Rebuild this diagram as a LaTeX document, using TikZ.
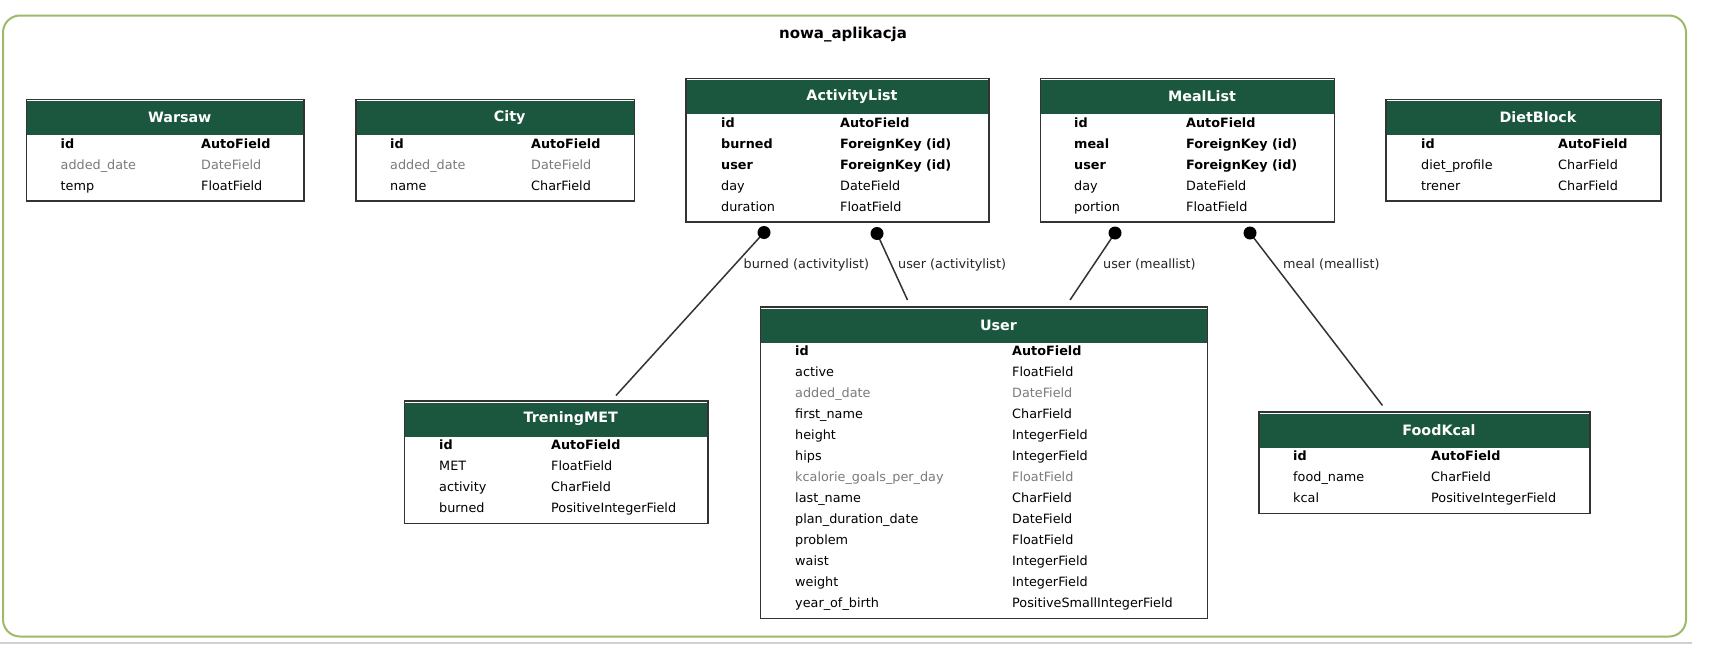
\documentclass[tikz,border=0pt]{standalone}
\usepackage{fontspec}
\setmainfont{DejaVu Sans}
\usetikzlibrary{fit,calc}

\definecolor{hdrgreen}{HTML}{1B563F}
\definecolor{framegreen}{HTML}{9CBB6A}
\definecolor{nullgray}{HTML}{7B7B7B}
\definecolor{edgegray}{HTML}{333333}
\definecolor{rulegray}{HTML}{D0D0D0}

\tikzset{
  tbl/.style={draw=edgegray, line width=1.6pt, inner sep=0pt, fill=white},
  hdr/.style={fill=hdrgreen},
  tbltitle/.style={text=white, inner sep=0pt, font=\fontsize{14.3}{16}\selectfont\bfseries},
  fld/.style={anchor=base west, inner sep=0pt, font=\fontsize{12.8}{15}\selectfont},
  pk/.style={font=\fontsize{12.8}{15}\selectfont\bfseries},
  nullf/.style={text=nullgray},
  reg/.style={},
  rel/.style={draw=edgegray, line width=1.5pt},
  tail/.style={circle, fill=black, inner sep=0pt, minimum size=13pt},
  rellabel/.style={anchor=base west, inner sep=0pt, text=black!85, font=\fontsize{12.8}{15}\selectfont},
  apptitle/.style={inner sep=0pt, font=\fontsize{15}{17}\selectfont\bfseries},
}

% model table: #1 name, #2 left, #3 top, #4 right, #5 number of rows, #6 title
\newcommand\erbox[6]{%
  \pgfmathsetmacro\boxbot{#3+44+(#5-1)*21+15.5}
  \node[tbl, fit={(#2,#3) (#4,\boxbot)}] (#1) {};
  \fill[hdr] (#2+0.8,#3+1.8) rectangle (#4-0.8,#3+35.5);
  \node[tbltitle] (#1-title) at ({(#2+#4)/2+14.5},#3+18) {#6};
  \def\rowtop{#3+44}}

% one field row: #1 table, #2 index, #3 style, #4 field name, #5 field type
\newcommand\frow[5]{%
  \node[fld,#3] (#1-f#2) at (\nx,\rowtop+#2*21+4.5) {#4};
  \node[fld,#3] (#1-t#2) at (\tx,\rowtop+#2*21+4.5) {#5};}

\begin{document}
\begin{tikzpicture}[x=1pt,y=-1pt]
\useasboundingbox (0,0) rectangle (1733,664);
\fill[white] (0,0) rectangle (1733,664);

% application cluster
\draw[framegreen, line width=2pt, rounded corners=17pt] (3,15.5) rectangle (1686,636.5);
\draw[rulegray, line width=1.5pt] (0,643) -- (1692,643);
\node[apptitle] (app) at (843,35) {nowa\_aplikacja};

% Warsaw
\erbox{warsaw}{26.5}{99.5}{304}{3}{Warsaw}
\def\nx{60.5}\def\tx{201}
\frow{warsaw}{0}{pk}{id}{AutoField}
\frow{warsaw}{1}{nullf}{added\_date}{DateField}
\frow{warsaw}{2}{reg}{temp}{FloatField}

% City
\erbox{city}{356}{99.5}{634.5}{3}{City}
\def\nx{390}\def\tx{531}
\frow{city}{0}{pk}{id}{AutoField}
\frow{city}{1}{nullf}{added\_date}{DateField}
\frow{city}{2}{reg}{name}{CharField}

% ActivityList
\erbox{act}{686}{78.5}{989}{5}{ActivityList}
\def\nx{721}\def\tx{840}
\frow{act}{0}{pk}{id}{AutoField}
\frow{act}{1}{pk}{burned}{ForeignKey (id)}
\frow{act}{2}{pk}{user}{ForeignKey (id)}
\frow{act}{3}{reg}{day}{DateField}
\frow{act}{4}{reg}{duration}{FloatField}

% MealList
\erbox{meal}{1040.5}{78.5}{1334.5}{5}{MealList}
\def\nx{1074}\def\tx{1186}
\frow{meal}{0}{pk}{id}{AutoField}
\frow{meal}{1}{pk}{meal}{ForeignKey (id)}
\frow{meal}{2}{pk}{user}{ForeignKey (id)}
\frow{meal}{3}{reg}{day}{DateField}
\frow{meal}{4}{reg}{portion}{FloatField}

% DietBlock
\erbox{diet}{1386}{99.5}{1661}{3}{DietBlock}
\def\nx{1421}\def\tx{1558}
\frow{diet}{0}{pk}{id}{AutoField}
\frow{diet}{1}{reg}{diet\_profile}{CharField}
\frow{diet}{2}{reg}{trener}{CharField}

% User
\erbox{user}{760.5}{307}{1207.5}{13}{User}
\def\nx{795}\def\tx{1012}
\frow{user}{0}{pk}{id}{AutoField}
\frow{user}{1}{reg}{active}{FloatField}
\frow{user}{2}{nullf}{added\_date}{DateField}
\frow{user}{3}{reg}{first\_name}{CharField}
\frow{user}{4}{reg}{height}{IntegerField}
\frow{user}{5}{reg}{hips}{IntegerField}
\frow{user}{6}{nullf}{kcalorie\_goals\_per\_day}{FloatField}
\frow{user}{7}{reg}{last\_name}{CharField}
\frow{user}{8}{reg}{plan\_duration\_date}{DateField}
\frow{user}{9}{reg}{problem}{FloatField}
\frow{user}{10}{reg}{waist}{IntegerField}
\frow{user}{11}{reg}{weight}{IntegerField}
\frow{user}{12}{reg}{year\_of\_birth}{PositiveSmallIntegerField}

% TreningMET
\erbox{met}{404.5}{401}{708}{4}{TreningMET}
\def\nx{439}\def\tx{551}
\frow{met}{0}{pk}{id}{AutoField}
\frow{met}{1}{reg}{MET}{FloatField}
\frow{met}{2}{reg}{activity}{CharField}
\frow{met}{3}{reg}{burned}{PositiveIntegerField}

% FoodKcal
\erbox{food}{1259}{412}{1590}{3}{FoodKcal}
\def\nx{1293}\def\tx{1431}
\frow{food}{0}{pk}{id}{AutoField}
\frow{food}{1}{reg}{food\_name}{CharField}
\frow{food}{2}{reg}{kcal}{PositiveIntegerField}

% foreign key relations
\coordinate (met-in) at (616,395.5);
\coordinate (user-in-a) at (907.5,300);
\coordinate (user-in-m) at (1070,300);
\coordinate (food-in) at (1382.5,405.5);
\coordinate (act-burned) at (764,232.5);
\coordinate (act-user) at (877,233.5);
\coordinate (meal-user) at (1115,233);
\coordinate (meal-meal) at (1250,233);

\draw[rel] (act-burned) -- (met-in);
\draw[rel] (act-user) -- (user-in-a);
\draw[rel] (meal-user) -- (user-in-m);
\draw[rel] (meal-meal) -- (food-in);

\node[tail] (dot-burned) at (act-burned) {};
\node[tail] (dot-auser) at (act-user) {};
\node[tail] (dot-muser) at (meal-user) {};
\node[tail] (dot-mmeal) at (meal-meal) {};

\node[rellabel] (lbl-burned) at (743.5,268.5) {burned (activitylist)};
\node[rellabel] (lbl-auser) at (898,268.5) {user (activitylist)};
\node[rellabel] (lbl-muser) at (1103,268.5) {user (meallist)};
\node[rellabel] (lbl-mmeal) at (1283,268.5) {meal (meallist)};
\end{tikzpicture}
\end{document}
